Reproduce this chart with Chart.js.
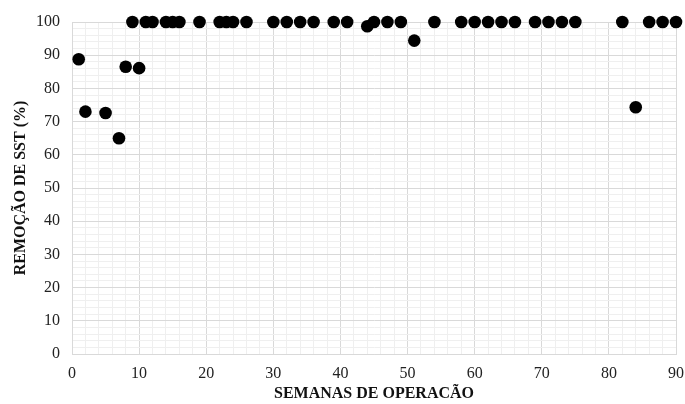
<!DOCTYPE html>
<html>
<head>
<meta charset="utf-8">
<script src="https://cdn.jsdelivr.net/npm/chart.js@4"></script>
<style>
  body { margin: 0; background: #fff; }
  #wrap { width: 685px; height: 404px; }
</style>
</head>
<body>
<div id="wrap"><canvas id="sst"></canvas></div>
<script>
var semanas = [1, 2, 5, 7, 8, 9, 10, 11, 12, 14, 15, 16, 19, 22, 23, 24, 26, 30, 32, 34, 36, 39, 41, 44, 45, 47, 49, 51, 54, 58, 60, 62, 64, 66, 69, 71, 73, 75, 82, 84, 86, 88, 90]
var remocao = [88.8, 73, 72.6, 65, 86.5, 100, 86.1, 100, 100, 100, 100, 100, 100, 100, 100, 100, 100, 100, 100, 100, 100, 100, 100, 98.7, 100, 100, 100, 94.4, 100, 100, 100, 100, 100, 100, 100, 100, 100, 100, 100, 74.3, 100, 100, 100]
var xTitle = "SEMANAS DE OPERACÃO"
var yTitle = "REMOÇÃO DE SST (%)"

var serif = "'Liberation Serif', 'Times New Roman', serif"

function gridColor(ctx) {
  if (ctx.tick && ctx.tick.value % 10 === 0) return '#d9d9d9';
  return '#efefef';
}

new Chart("sst", {
  type: "scatter",
  data: {
    datasets: [{
      data: semanas.map(function (s, i) { return { x: s, y: remocao[i] }; }),
      backgroundColor: '#000',
      borderWidth: 0,
      pointRadius: 6.3,
      pointHoverRadius: 6.3,
      clip: false
    }]
  },
  options: {
    responsive: true,
    maintainAspectRatio: false,
    animation: false,
    layout: { padding: { left: 11, right: 0, top: 22, bottom: 0 } },
    plugins: { legend: { display: false }, tooltip: { enabled: false } },
    scales: {
      x: {
        type: 'linear', min: 0, max: 90,
        border: { color: '#d9d9d9' },
        grid: { color: gridColor, drawTicks: false },
        ticks: {
          stepSize: 2, autoSkip: false, maxRotation: 0, padding: 10, color: '#222',
          font: { family: serif, size: 16 },
          callback: function (v) { return v % 10 === 0 ? v : ''; }
        },
        title: { display: true, text: xTitle, color: '#111', padding: { top: 6, bottom: 1 }, font: { family: serif, size: 16, weight: 'bold' } },
        afterFit: function (s) { s.height = 50; s.paddingLeft = 0; s.paddingRight = 9; }
      },
      y: {
        min: 0, max: 100,
        border: { color: '#d9d9d9' },
        grid: { color: gridColor, drawTicks: false },
        ticks: {
          stepSize: 2, autoSkip: false, padding: 12, color: '#222',
          font: { family: serif, size: 16 },
          callback: function (v) { return v % 10 === 0 ? v : ''; }
        },
        title: { display: true, text: yTitle, color: '#111', padding: 0, font: { family: serif, size: 16, weight: 'bold' } },
        afterFit: function (s) { s.width = 61; }
      }
    }
  }
});
</script>
</body>
</html>
